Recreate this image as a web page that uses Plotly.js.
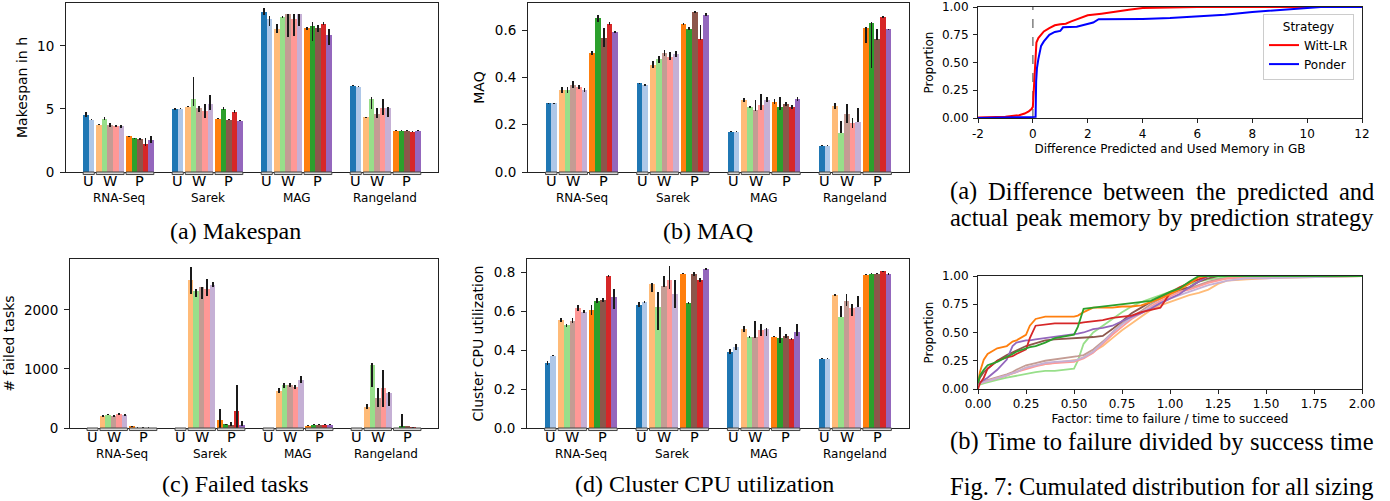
<!DOCTYPE html>
<html><head><meta charset="utf-8">
<script src="https://cdn.plot.ly/plotly-3.0.1.min.js"></script>
<style>html,body{margin:0;padding:0;background:#fff}#chart{width:1390px;height:501px}</style>
</head><body><div id="chart"></div>
<script>
// ---------- DATA ----------
const workflows = ["RNA-Seq", "Sarek", "MAG", "Rangeland"];
const strategies = ["U-1", "U-2", "W-1", "W-2", "W-3", "W-4", "W-5", "P-1", "P-2", "P-3", "P-4", "P-5"];
const subgroupLabels = ["U", "W", "P"];
const subgroupOf = [0, 0, 1, 1, 1, 1, 1, 2, 2, 2, 2, 2];
const barColors = ["#1f77b4", "#aec7e8", "#ffbb78", "#98df8a", "#c49c94", "#ff9896", "#c5b0d5", "#ff7f0e", "#2ca02c", "#8c564b", "#d62728", "#9467bd"];

// rows = strategies, columns = workflows
const makespanMean = [
  [4.55, 5.03, 12.72, 6.85], [4.15, 5.03, 12.14, 6.77],
  [3.76, 5.19, 11.30, 4.34], [4.23, 5.80, 12.30, 5.82], [3.70, 5.08, 12.54, 4.63], [3.62, 4.87, 12.10, 5.08], [3.62, 5.42, 12.54, 5.08],
  [2.83, 4.23, 11.38, 3.28], [2.67, 5.03, 11.60, 3.28], [2.62, 4.15, 11.38, 3.28], [2.25, 4.79, 11.77, 3.20], [2.57, 4.07, 10.90, 3.28]];
const makespanErrPlus = [
  [0.20, 0.08, 0.25, 0.05], [0.03, 0.05, 0.20, 0.05],
  [0.05, 0.08, 0.40, 0.05], [0.10, 1.75, 0.05, 0.10], [0.15, 0.18, 0.00, 0.45], [0.08, 0.53, 0.45, 0.70], [0.12, 0.72, 0.00, 0.08],
  [0.05, 0.03, 0.10, 0.05], [0.05, 0.10, 0.28, 0.05], [0.05, 0.05, 0.25, 0.05], [0.45, 0.15, 0.15, 0.03], [0.30, 0.03, 0.40, 0.05]];
const makespanErrMinus = [
  [0.20, 0.08, 0.25, 0.05], [0.03, 0.05, 0.60, 0.05],
  [0.05, 0.05, 0.27, 0.05], [0.10, 0.60, 0.05, 0.85], [0.15, 0.34, 1.80, 0.35], [0.08, 0.58, 1.30, 0.53], [0.12, 0.47, 1.00, 0.71],
  [0.05, 0.03, 0.10, 0.05], [0.05, 0.10, 1.23, 0.05], [0.05, 0.05, 0.25, 0.05], [0.20, 0.15, 0.15, 0.03], [0.30, 0.03, 0.80, 0.05]];

const maqMean = [
  [0.291, 0.375, 0.170, 0.112], [0.291, 0.368, 0.170, 0.112],
  [0.347, 0.453, 0.305, 0.280], [0.347, 0.476, 0.275, 0.166], [0.370, 0.505, 0.261, 0.246], [0.358, 0.488, 0.284, 0.207], [0.347, 0.499, 0.306, 0.212],
  [0.503, 0.625, 0.298, 0.609], [0.651, 0.607, 0.273, 0.630], [0.568, 0.676, 0.288, 0.562], [0.628, 0.562, 0.275, 0.655], [0.592, 0.666, 0.309, 0.604]];
const maqErrPlus = [
  [0.002, 0.003, 0.002, 0.002], [0.002, 0.003, 0.002, 0.002],
  [0.012, 0.015, 0.010, 0.012], [0.013, 0.015, 0.004, 0.048], [0.015, 0.010, 0.044, 0.042], [0.008, 0.020, 0.046, 0.021], [0.008, 0.012, 0.010, 0.058],
  [0.010, 0.005, 0.010, 0.005], [0.015, 0.008, 0.043, 0.005], [0.040, 0.004, 0.010, 0.041], [0.005, 0.060, 0.010, 0.005], [0.003, 0.008, 0.010, 0.003]];
const maqErrMinus = [
  [0.002, 0.003, 0.002, 0.002], [0.002, 0.003, 0.002, 0.002],
  [0.012, 0.015, 0.010, 0.012], [0.013, 0.015, 0.004, 0.003], [0.015, 0.015, 0.005, 0.039], [0.008, 0.015, 0.021, 0.021], [0.008, 0.012, 0.010, 0.002],
  [0.010, 0.005, 0.010, 0.062], [0.015, 0.008, 0.010, 0.190], [0.040, 0.004, 0.010, 0.004], [0.005, 0.005, 0.010, 0.005], [0.003, 0.008, 0.010, 0.003]];

const failedMean = [
  [0, 0, 0, 0], [0, 0, 0, 0],
  [197, 2507, 631, 361], [225, 2327, 721, 1070], [197, 2383, 732, 513], [231, 2349, 699, 682], [214, 2422, 822, 597],
  [28, 141, 40, 5], [8, 62, 56, 39], [6, 50, 56, 34], [6, 293, 56, 10], [5, 56, 56, 2]];
const failedErrPlus = [
  [0, 0, 0, 0], [0, 0, 0, 0],
  [15, 215, 40, 45], [10, 30, 50, 30], [15, 15, 30, 160], [15, 175, 30, 300], [15, 45, 60, 10],
  [5, 180, 5, 3], [3, 10, 10, 203], [3, 50, 10, 5], [3, 428, 10, 5], [2, 70, 10, 2]];
const failedErrMinus = [
  [0, 0, 0, 0], [0, 0, 0, 0],
  [15, 230, 40, 45], [10, 100, 50, 370], [15, 200, 30, 150], [15, 120, 30, 320], [15, 30, 60, 220],
  [5, 140, 5, 3], [3, 10, 10, 30], [3, 10, 10, 5], [3, 293, 10, 5], [2, 20, 10, 2]];

const cpuMean = [
  [0.333, 0.632, 0.391, 0.356], [0.371, 0.646, 0.415, 0.356],
  [0.554, 0.740, 0.509, 0.684], [0.528, 0.622, 0.467, 0.571], [0.550, 0.730, 0.467, 0.653], [0.617, 0.761, 0.501, 0.617], [0.597, 0.689, 0.509, 0.622],
  [0.607, 0.791, 0.468, 0.786], [0.653, 0.641, 0.462, 0.791], [0.656, 0.791, 0.474, 0.791], [0.781, 0.761, 0.458, 0.805], [0.674, 0.817, 0.494, 0.788]];
const cpuErrPlus = [
  [0.010, 0.012, 0.012, 0.003], [0.003, 0.003, 0.015, 0.003],
  [0.010, 0.004, 0.015, 0.005], [0.008, 0.074, 0.005, 0.053], [0.012, 0.050, 0.080, 0.034], [0.015, 0.068, 0.034, 0.019], [0.008, 0.068, 0.003, 0.053],
  [0.025, 0.003, 0.003, 0.003], [0.012, 0.003, 0.056, 0.003], [0.010, 0.010, 0.010, 0.003], [0.005, 0.010, 0.005, 0.003], [0.039, 0.005, 0.041, 0.005]];
const cpuErrMinus = [
  [0.010, 0.012, 0.012, 0.003], [0.003, 0.003, 0.015, 0.003],
  [0.010, 0.044, 0.015, 0.005], [0.008, 0.118, 0.005, 0.003], [0.012, 0.005, 0.003, 0.029], [0.015, 0.048, 0.031, 0.044], [0.008, 0.074, 0.039, 0.003],
  [0.025, 0.003, 0.003, 0.003], [0.012, 0.003, 0.026, 0.003], [0.010, 0.010, 0.010, 0.003], [0.005, 0.010, 0.005, 0.003], [0.064, 0.005, 0.024, 0.005]];

// CDF (a): difference predicted - used memory (GB)
const wittLrX = [-2, -1.5, -1, -0.5, -0.3, -0.15, -0.05, 0, 0.05, 0.1, 0.13, 0.2, 0.3, 0.4, 0.6, 0.8, 1.0, 1.2, 1.4, 1.6, 1.8, 2.0, 2.5, 3.0, 3.5, 4.0, 5.0, 6.0, 12];
const wittLrY = [0.005, 0.008, 0.012, 0.025, 0.04, 0.06, 0.08, 0.10, 0.35, 0.62, 0.68, 0.72, 0.75, 0.78, 0.81, 0.835, 0.845, 0.85, 0.87, 0.89, 0.905, 0.925, 0.94, 0.96, 0.975, 0.99, 0.997, 1.0, 1.0];
const ponderX = [-2, 0.1, 0.12, 0.15, 0.2, 0.25, 0.3, 0.4, 0.5, 0.6, 0.8, 1.0, 1.05, 1.1, 1.6, 2.0, 2.2, 2.4, 3, 4, 5, 6, 7, 8, 9, 10, 10.5, 12];
const ponderY = [0, 0.01, 0.33, 0.45, 0.53, 0.60, 0.65, 0.69, 0.72, 0.75, 0.775, 0.785, 0.80, 0.817, 0.822, 0.845, 0.86, 0.89, 0.89, 0.893, 0.90, 0.912, 0.93, 0.955, 0.975, 0.99, 1.0, 1.0];

// CDF (b): time to failure / time to succeed
const factorGrid = [0, 0.01, 0.03, 0.05, 0.1, 0.15, 0.18, 0.2, 0.25, 0.27, 0.3, 0.35, 0.4, 0.5, 0.52, 0.55, 0.6, 0.65, 0.7, 0.75, 0.8, 0.85, 0.9, 0.95, 1.0, 1.05, 1.1, 1.15, 1.2, 1.25, 1.3, 1.4, 1.5, 2.0];
const failLightOrange = [0.05,0.06,0.07,0.07,0.09,0.12,0.14,0.15,0.19,0.20,0.21,0.22,0.23,0.25,0.26,0.28,0.33,0.38,0.45,0.52,0.58,0.64,0.70,0.74,0.77,0.80,0.83,0.85,0.88,0.93,0.96,0.97,0.98,1];
const failLightGreen = [0.04,0.04,0.05,0.06,0.08,0.10,0.11,0.12,0.14,0.14,0.15,0.16,0.16,0.18,0.25,0.40,0.50,0.56,0.62,0.68,0.73,0.77,0.80,0.83,0.86,0.90,0.93,0.95,0.97,0.98,0.99,1,1,1];
const failLightBrown = [0.05,0.06,0.07,0.08,0.10,0.13,0.15,0.17,0.21,0.22,0.23,0.25,0.26,0.28,0.29,0.30,0.35,0.42,0.50,0.58,0.64,0.69,0.75,0.80,0.84,0.87,0.89,0.92,0.95,0.97,0.98,0.99,0.99,1];
const failLightPink = [0.04,0.05,0.06,0.07,0.09,0.12,0.14,0.15,0.18,0.19,0.20,0.22,0.23,0.24,0.25,0.27,0.32,0.40,0.48,0.55,0.62,0.67,0.73,0.78,0.82,0.86,0.88,0.91,0.94,0.96,0.98,0.99,0.99,1];
const failLightPurple = [0.05,0.05,0.06,0.07,0.09,0.12,0.14,0.15,0.19,0.20,0.21,0.23,0.24,0.25,0.26,0.28,0.33,0.41,0.50,0.57,0.63,0.68,0.72,0.76,0.80,0.83,0.86,0.89,0.92,0.94,0.96,0.98,0.98,1];
const failOrange = [0.05,0.15,0.26,0.31,0.36,0.38,0.42,0.43,0.48,0.56,0.62,0.64,0.64,0.64,0.65,0.68,0.72,0.72,0.72,0.73,0.73,0.74,0.77,0.80,0.84,0.88,0.93,0.99,1,1,1,1,1,1];
const failGreen = [0.05,0.12,0.17,0.21,0.24,0.28,0.31,0.33,0.36,0.37,0.38,0.41,0.45,0.48,0.55,0.71,0.72,0.73,0.74,0.75,0.76,0.77,0.78,0.82,0.86,0.89,0.95,1,1,1,1,1,1,1];
const failBrown = [0.05,0.10,0.15,0.18,0.25,0.30,0.32,0.34,0.38,0.39,0.41,0.43,0.44,0.45,0.45,0.45,0.46,0.47,0.53,0.60,0.67,0.72,0.77,0.81,0.85,0.88,0.90,0.95,0.98,1,1,1,1,1];
const failRed = [0.0,0.05,0.10,0.18,0.25,0.28,0.29,0.31,0.35,0.45,0.56,0.57,0.58,0.58,0.58,0.59,0.60,0.61,0.63,0.64,0.65,0.68,0.70,0.72,0.85,0.90,0.94,0.97,1,1,1,1,1,1];
const failPurple = [0.04,0.06,0.08,0.10,0.17,0.26,0.38,0.41,0.43,0.43,0.44,0.45,0.46,0.48,0.49,0.50,0.53,0.54,0.56,0.60,0.64,0.67,0.71,0.76,0.80,0.84,0.90,0.95,1,1,1,1,1,1];

const captionsLeft = ["(a) Makespan", "(b) MAQ", "(c) Failed tasks", "(d) Cluster CPU utilization"];
const captionsRight = ["(a) Difference between the predicted and", "actual peak memory by prediction strategy",
                       "(b) Time to failure divided by success time", "Fig. 7: Cumulated distribution for all sizing"];

// ---------- LAYOUT HELPERS ----------
const W = 1390, H = 501;
const FONT = "DejaVu Sans";
const SERIF = "Liberation Serif";
const BW = 0.0625, SG = 0.022;
function barCenter(i) { return -0.397 + BW * (i + 0.5) + SG * subgroupOf[i]; }
const px = v => v / W, py = v => 1 - v / H;

const traces = [], shapes = [], annotations = [];

const barPanels = [
  {sfx: "",  mean: makespanMean, plus: makespanErrPlus, minus: makespanErrMinus},
  {sfx: "2", mean: maqMean,      plus: maqErrPlus,      minus: maqErrMinus},
  {sfx: "3", mean: failedMean,   plus: failedErrPlus,   minus: failedErrMinus},
  {sfx: "4", mean: cpuMean,      plus: cpuErrPlus,      minus: cpuErrMinus}
];

barPanels.forEach(p => {
  strategies.forEach((name, i) => {
    traces.push({
      type: "bar", name: name, showlegend: false,
      x: workflows.map((w, g) => g + barCenter(i)),
      y: p.mean[i], width: BW,
      marker: {color: barColors[i], line: {width: 0}},
      error_y: {type: "data", symmetric: false, array: p.plus[i], arrayminus: p.minus[i],
                color: "#1a1a1a", thickness: 1.7, width: 0},
      xaxis: "x" + p.sfx, yaxis: "y" + p.sfx, hoverinfo: "skip"
    });
  });
  // brackets and labels
  workflows.forEach((w, g) => {
    subgroupLabels.forEach((lab, s) => {
      const idx = subgroupOf.map((v, k) => v === s ? k : -1).filter(k => k >= 0);
      const x0 = g + barCenter(idx[0]) - BW / 2, x1 = g + barCenter(idx[idx.length - 1]) + BW / 2;
      shapes.push({type: "rect", xref: "x" + p.sfx, yref: "y" + p.sfx + " domain",
                   x0: x0, x1: x1, y0: -0.015, y1: 0, fillcolor: "#d8d8d8",
                   line: {color: "#444", width: 1}, layer: "above"});
      annotations.push({text: lab, xref: "x" + p.sfx, yref: "y" + p.sfx + " domain",
                        x: (x0 + x1) / 2, y: 0, yanchor: "top", yshift: 0, showarrow: false, borderpad: 0,
                        font: {family: FONT, size: 14.5, color: "#000"}});
    });
    annotations.push({text: w, xref: "x" + p.sfx, yref: "y" + p.sfx + " domain",
                      x: g, y: 0, yanchor: "top", yshift: -18, showarrow: false, borderpad: 0,
                      font: {family: FONT, size: 12, color: "#000"}});
  });
});

// CDF (a)
traces.push({type: "scatter", mode: "lines", name: "Witt-LR", x: wittLrX, y: wittLrY,
             line: {color: "#ff0000", width: 2}, xaxis: "x5", yaxis: "y5"});
traces.push({type: "scatter", mode: "lines", name: "Ponder", x: ponderX, y: ponderY,
             line: {color: "#0000ff", width: 2}, xaxis: "x5", yaxis: "y5"});
shapes.push({type: "line", xref: "x5", yref: "y5 domain", x0: 0, x1: 0, y0: 0, y1: 1,
             line: {color: "#808080", width: 1.5, dash: "dash"}, layer: "below"});

// CDF (b)
const failSeries = [
  [failLightOrange, "#ffbb78"], [failLightGreen, "#98df8a"], [failLightBrown, "#c49c94"],
  [failLightPink, "#ff9896"], [failLightPurple, "#c5b0d5"],
  [failBrown, "#8c564b"], [failPurple, "#9467bd"], [failRed, "#d62728"],
  [failOrange, "#ff7f0e"], [failGreen, "#2ca02c"]];
failSeries.forEach(([ys, c]) => {
  traces.push({type: "scatter", mode: "lines", showlegend: false, x: factorGrid, y: ys,
               line: {color: c, width: 1.8}, xaxis: "x6", yaxis: "y6", hoverinfo: "skip"});
});

// Captions
const capPos = [[235, 231], [708, 231], [235, 484], [705, 484]];
captionsLeft.forEach((t, i) => annotations.push({
  text: t, xref: "paper", yref: "paper", x: px(capPos[i][0]), y: py(capPos[i][1]),
  xanchor: "center", yanchor: "middle", showarrow: false, borderpad: 0,
  font: {family: SERIF, size: 24, color: "#000"}}));

(function justify() {
  const ctx = document.createElement("canvas").getContext("2d");
  const size = 24.5;
  ctx.font = size + 'px "' + SERIF + '"';
  const ys = [191, 218, 441, 486];
  captionsRight.forEach((line, li) => {
    const words = line.split(" ");
    const widths = words.map(w => ctx.measureText(w).width);
    const total = widths.reduce((a, b) => a + b, 0);
    const x0 = 949, x1 = 1373;
    const gap = (x1 - x0 - total) / (words.length - 1);
    let x = x0;
    words.forEach((w, k) => {
      annotations.push({text: w, xref: "paper", yref: "paper", x: px(x), y: py(ys[li]),
        xanchor: "left", yanchor: "middle", showarrow: false, borderpad: 0,
        font: {family: SERIF, size: size, color: "#000"}});
      x += widths[k] + gap;
    });
  });
})();

// ---------- AXES ----------
const lineCol = "#222";
function barX(dom) {
  return {domain: dom, range: [-0.59, 3.59], showticklabels: false, ticks: "", showgrid: false,
          zeroline: false, showline: true, mirror: true, linecolor: lineCol, linewidth: 1, automargin: false};
}
function barY(dom, range, tickvals, fmt, title) {
  return {domain: dom, range: range, tickvals: tickvals, tickformat: fmt, ticks: "outside", ticklen: 5,
          tickcolor: lineCol, tickwidth: 1, ticklabelstandoff: 3, showgrid: false, zeroline: false,
          showline: true, mirror: true, linecolor: lineCol, linewidth: 1, automargin: false,
          tickfont: {family: FONT, size: 13.5, color: "#000"},
          title: {text: title, standoff: 6, font: {family: FONT, size: 14, color: "#000"}}};
}
const topDom = [py(172), py(3)], botDom = [py(428), py(259)];

const layout = {
  width: W, height: H, margin: {l: 0, r: 0, t: 0, b: 0, pad: 0},
  paper_bgcolor: "#fff", plot_bgcolor: "#fff", barmode: "overlay", bargap: 0,
  font: {family: FONT, color: "#000"},
  xaxis:  Object.assign(barX([px(66), px(438)]), {anchor: "y"}),
  yaxis:  Object.assign(barY(topDom, [0, 13.4], [0, 5, 10], "d", "Makespan in h"), {anchor: "x"}),
  xaxis2: Object.assign(barX([px(528), px(909)]), {anchor: "y2"}),
  yaxis2: Object.assign(barY(topDom, [0, 0.715], [0, 0.2, 0.4, 0.6], ".1f", "MAQ"), {anchor: "x2"}),
  xaxis3: Object.assign(barX([px(70), px(438)]), {anchor: "y3"}),
  yaxis3: Object.assign(barY(botDom, [0, 2864], [0, 1000, 2000], "d", "# failed tasks"), {anchor: "x3"}),
  xaxis4: Object.assign(barX([px(527), px(909)]), {anchor: "y4"}),
  yaxis4: Object.assign(barY(botDom, [0, 0.867], [0, 0.2, 0.4, 0.6, 0.8], ".1f", "Cluster CPU utilization"), {anchor: "x4"}),
  xaxis5: {domain: [px(978), px(1362)], anchor: "y5", range: [-2, 12],
           tickvals: [-2, 0, 2, 4, 6, 8, 10, 12], ticktext: ["-2", "0", "2", "4", "6", "8", "10", "12"],
           ticks: "outside", ticklen: 4, tickcolor: lineCol, ticklabelstandoff: 1, showgrid: false, zeroline: false,
           showline: true, mirror: true, linecolor: lineCol, automargin: false,
           tickfont: {family: FONT, size: 12, color: "#000"},
           title: {text: "Difference Predicted and Used Memory in GB", standoff: 4, font: {family: FONT, size: 12, color: "#000"}}},
  yaxis5: {domain: [py(118), py(7)], anchor: "x5", range: [0, 1], tickvals: [0, 0.25, 0.5, 0.75, 1], tickformat: ".2f",
           ticks: "outside", ticklen: 4, tickcolor: lineCol, ticklabelstandoff: 2, showgrid: false, zeroline: false,
           showline: true, mirror: true, linecolor: lineCol, automargin: false,
           tickfont: {family: FONT, size: 12, color: "#000"},
           title: {text: "Proportion", standoff: 5, font: {family: FONT, size: 12, color: "#000"}}},
  xaxis6: {domain: [px(978), px(1362)], anchor: "y6", range: [0, 2],
           tickvals: [0, 0.25, 0.5, 0.75, 1, 1.25, 1.5, 1.75, 2], tickformat: ".2f",
           ticks: "outside", ticklen: 4, tickcolor: lineCol, ticklabelstandoff: 0, showgrid: false, zeroline: false,
           showline: true, mirror: true, linecolor: lineCol, automargin: false,
           tickfont: {family: FONT, size: 12, color: "#000"},
           title: {text: "Factor: time to failure / time to succeed", standoff: 4, font: {family: FONT, size: 12, color: "#000"}}},
  yaxis6: {domain: [py(389), py(276)], anchor: "x6", range: [0, 1], tickvals: [0, 0.25, 0.5, 0.75, 1], tickformat: ".2f",
           ticks: "outside", ticklen: 4, tickcolor: lineCol, ticklabelstandoff: 2, showgrid: false, zeroline: false,
           showline: true, mirror: true, linecolor: lineCol, automargin: false,
           tickfont: {family: FONT, size: 12, color: "#000"},
           title: {text: "Proportion", standoff: 5, font: {family: FONT, size: 12, color: "#000"}}},
  legend: {x: px(1263), y: py(14), xanchor: "left", yanchor: "top", bgcolor: "rgba(255,255,255,0.85)",
           bordercolor: "#cccccc", borderwidth: 1, itemwidth: 30, tracegroupgap: 0,
           font: {family: FONT, size: 12, color: "#000"},
           title: {text: "Strategy", side: "top center", font: {family: FONT, size: 12, color: "#000"}}},
  shapes: shapes, annotations: annotations, showlegend: true
};

Plotly.newPlot("chart", traces, layout, {staticPlot: true, displayModeBar: false});
</script>
</body></html>
